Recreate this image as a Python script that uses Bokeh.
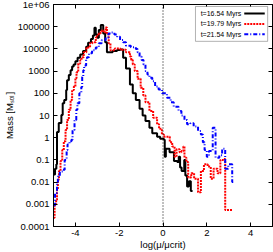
from bokeh.plotting import figure
from bokeh.models import (Range1d, LinearAxis, LogAxis, FixedTicker, CustomJSTickFormatter,
                          Span, Label, BoxAnnotation, Arrow)
from bokeh.embed import file_html
from bokeh.resources import INLINE

# ---------------- data (log(mu/mu_crit) bin left edges, mass in M_sol) ----------------
series_names = ["t=16.54 Myrs", "t=19.79 Myrs", "t=21.54 Myrs"]

x_black = [-5.0, -4.93, -4.87, -4.84, -4.76, -4.64, -4.58, -4.51, -4.42, -4.38, -4.3, -4.22,
           -4.15, -4.08, -4.0, -3.9, -3.78, -3.65, -3.51, -3.42, -3.29, -3.2, -3.13, -3.07,
           -3.0, -2.93, -2.84, -2.73, -2.64, -2.56, -2.3, -2.1, -1.95, -1.82, -1.69, -1.51,
           -1.38, -1.24, -1.07, -0.93, -0.8, -0.62, -0.49, -0.27, -0.13, 0.04, 0.08, 0.13,
           0.3, 0.5, 0.65, 0.72, 0.78, 0.85, 0.97, 1.02, 1.1, 1.18, 1.27, 1.35]
m_black = [0.022, 0.04, 0.063, 1.8, 4.6, 10.5, 36, 50, 140, 390, 660, 1100,
           1600, 2000, 2800, 4000, 5600, 8000, 12600, 19000, 28000, 40000, 89000, 45000,
           32000, 71000, 120000, 50000, 20000, 7100, 8000, 9000, 9500, 4000, 1300, 250,
           100, 50, 20, 10, 5.6, 2.8, 1.6, 1.1, 0.9, 0.8, 0.14, 0.32,
           0.22, 0.09, 0.08, 0.14, 0.045, 0.032, 0.1, 0.02, 0.0063, 0.011, 0.004, 0.004]

x_red = [-5.0, -4.95, -4.88, -4.84, -4.8, -4.75, -4.68, -4.6, -4.53, -4.45, -4.38, -4.3,
         -4.22, -4.15, -4.07, -4.0, -3.95, -3.87, -3.78, -3.72, -3.62, -3.5, -3.33, -3.22,
         -3.07, -3.0, -2.93, -2.85, -2.8, -2.72, -2.62, -2.56, -2.48, -2.4, -2.2, -1.95,
         -1.69, -1.51, -1.45, -1.38, -1.29, -1.16, -1.02, -0.9, -0.8, -0.62, -0.45, -0.27,
         -0.18, -0.05, 0.04, 0.31, 0.42, 0.53, 0.62, 0.76, 0.84, 0.93, 0.98, 1.07,
         1.15, 1.29, 1.42, 1.6, 1.73, 1.87, 2.04, 2.18, 2.31, 2.49, 2.62, 2.75, 2.84, 3.15]
m_red = [0.00025, 0.001, 0.0016, 0.0045, 0.0126, 0.032, 0.09, 0.28, 0.7, 2.2, 6.3, 18,
         50, 140, 200, 480, 890, 2200, 3100, 4200, 7100, 11700, 18000, 20000,
         33000, 40000, 50000, 55000, 68000, 56000, 93000, 50000, 18000, 8700, 10500, 9100,
         7100, 4500, 3200, 2000, 1000, 450, 180, 80, 40, 16, 8, 4,
         2.5, 1.4, 1.1, 0.63, 0.4, 0.14, 0.3, 0.22, 0.25, 0.4, 0.126, 0.08,
         0.016, 0.025, 0.014, 0.0035, 0.032, 0.063, 0.05, 0.014, 0.04, 0.025, 0.1, 0.11,
         0.00056, 0.00056]

x_blue = [-5.0, -4.93, -4.84, -4.8, -4.71, -4.58, -4.49, -4.4, -4.36, -4.27, -4.18, -4.13,
          -4.04, -3.96, -3.91, -3.82, -3.73, -3.69, -3.64, -3.6, -3.51, -3.47, -3.38, -3.24,
          -3.07, -2.93, -2.8, -2.62, -2.49, -2.36, -2.22, -2.09, -1.96, -1.82, -1.69, -1.47,
          -1.24, -1.16, -1.07, -0.98, -0.89, -0.8, -0.71, -0.62, -0.49, -0.36, -0.2, -0.04,
          0.18, 0.35, 0.49, 0.71, 0.84, 0.98, 1.1, 1.25, 1.4, 1.6, 1.73, 1.82,
          1.9, 2.0, 2.1, 2.27, 2.4, 2.57, 2.7, 2.84, 2.98, 3.16, 3.3]
m_blue = [0.0009, 0.0032, 0.01, 0.018, 0.03, 0.036, 0.1, 0.28, 0.5, 0.7, 0.8, 2.2,
          6.3, 18, 36, 100, 190, 540, 1100, 1800, 3100, 4200, 6300, 8700,
          11700, 18000, 24500, 33000, 50000, 55000, 45000, 35000, 25000, 20000, 14000, 12000,
          10000, 7100, 4500, 3200, 2000, 1000, 710, 500, 350, 200, 150, 100,
          63, 40, 25, 16, 10, 6.3, 4, 4.5, 3.2, 2, 1.4, 0.63,
          0.28, 0.14, 0.25, 2.8, 0.126, 0.16, 0.32, 0.04, 0.063, 0.01, 0.01]

x_ticks = [-4, -2, 0, 2, 4]
x_tick_labels = ["-4", "-2", "0", "2", "4"]
y_ticks = [1e-4, 1e-3, 1e-2, 1e-1, 1.0, 10.0, 100.0, 1e3, 1e4, 1e5, 1e6]
y_tick_labels = ["0.0001", "0.001", "0.01", "0.1", "1", "10", "100", "1000",
                 "10000", "100000", "1e+06"]
x_title = "log(\u03bc/\u03bccrit)"
y_title = "Mass [M\u209b\u2092\u2097]"

# ---------------- figure ----------------
FONT = "Liberation Sans"
FS = "9.5px"
W, H = 273, 252
FL, FR, FT, FB = 48, 272, 4, 227  # frame edges in figure pixels

p = figure(width=W, height=H, x_range=Range1d(-5, 5), y_range=Range1d(1e-4, 1e6),
           y_axis_type="log", output_backend="svg", toolbar_location=None,
           min_border_left=FL, min_border_right=W - FR, min_border_top=FT,
           min_border_bottom=H - FB)
p.background_fill_color = "white"
p.border_fill_color = "white"
p.outline_line_color = "black"
p.outline_line_width = 1
p.xgrid.visible = False
p.ygrid.visible = False

xfmt = CustomJSTickFormatter(args=dict(tv=x_ticks, tl=x_tick_labels), code="""
    let b = 0, bd = Infinity;
    for (let i = 0; i < tv.length; i++) { const d = Math.abs(tick - tv[i]); if (d < bd) { bd = d; b = i; } }
    return tl[b];
""")
yfmt = CustomJSTickFormatter(args=dict(tv=y_ticks, tl=y_tick_labels), code="""
    let b = 0, bd = Infinity;
    for (let i = 0; i < tv.length; i++) { const d = Math.abs(Math.log10(tick) - Math.log10(tv[i])); if (d < bd) { bd = d; b = i; } }
    return tl[b];
""")
blank = CustomJSTickFormatter(code="return '';")


def style_axis(ax):
    ax.major_tick_in = 4
    ax.major_tick_out = 0
    ax.minor_tick_in = 0
    ax.minor_tick_out = 0
    ax.axis_line_color = "black"
    ax.major_tick_line_color = "black"
    ax.major_label_text_font = FONT
    ax.major_label_text_font_size = FS
    ax.major_label_text_color = "black"
    ax.axis_label_text_font = FONT
    ax.axis_label_text_font_size = FS
    ax.axis_label_text_font_style = "normal"
    ax.axis_label_text_color = "black"


p.xaxis.ticker = FixedTicker(ticks=x_ticks, minor_ticks=[])
p.xaxis.formatter = xfmt
style_axis(p.xaxis[0])
p.xaxis.major_label_standoff = 3
p.xaxis.axis_label = x_title
p.xaxis.axis_label_standoff = 0

p.yaxis.ticker = FixedTicker(ticks=y_ticks, minor_ticks=[])
p.yaxis.formatter = yfmt
style_axis(p.yaxis[0])
p.yaxis.major_label_standoff = 4
p.yaxis.axis_label = y_title
p.yaxis.axis_label_standoff = 0

top = LinearAxis(ticker=FixedTicker(ticks=x_ticks, minor_ticks=[]), formatter=blank)
style_axis(top)
top.major_label_standoff = 0
p.add_layout(top, "above")

right = LogAxis(ticker=FixedTicker(ticks=y_ticks, minor_ticks=[]), formatter=blank)
style_axis(right)
right.major_label_standoff = 0
p.add_layout(right, "right")

# vertical dotted line at mu = mu_crit
p.add_layout(Span(location=0, dimension="height", line_color="black",
                  line_width=1, line_dash="1 2"))

styles = [dict(line_color="black", line_width=2),
          dict(line_color="#ff0000", line_width=2, line_dash="2 1"),
          dict(line_color="#0000ff", line_width=2, line_dash="4 2 1 2")]
for xs, ms, st in zip([x_black, x_red, x_blue], [m_black, m_red, m_blue], styles):
    p.step(x=xs, y=ms, mode="after", **st)

# ---------------- key (gnuplot-style: text left, sample right) ----------------
def px2x(px):
    return (px - 160.7) / 22.45

def py2y(py):
    return 10 ** (6.0 - (py - 4.0) / 22.3)

p.add_layout(BoxAnnotation(left=px2x(194), right=px2x(268), top=py2y(6), bottom=py2y(41),
                           fill_color="white", fill_alpha=1.0, line_color="black",
                           line_width=1, level="overlay"))
rows = [13, 23.5, 34]
for name, st, ry in zip(series_names, styles, rows):
    p.add_layout(Label(x=px2x(241), y=py2y(ry), text=name, text_font=FONT,
                       text_font_size="7px", text_color="black", text_align="right",
                       text_baseline="middle", level="overlay"))
    p.add_layout(Arrow(x_start=px2x(244), y_start=py2y(ry), x_end=px2x(265), y_end=py2y(ry),
                       start=None, end=None, level="overlay", **st))

open("out.html", "w").write(file_html(p, INLINE))
